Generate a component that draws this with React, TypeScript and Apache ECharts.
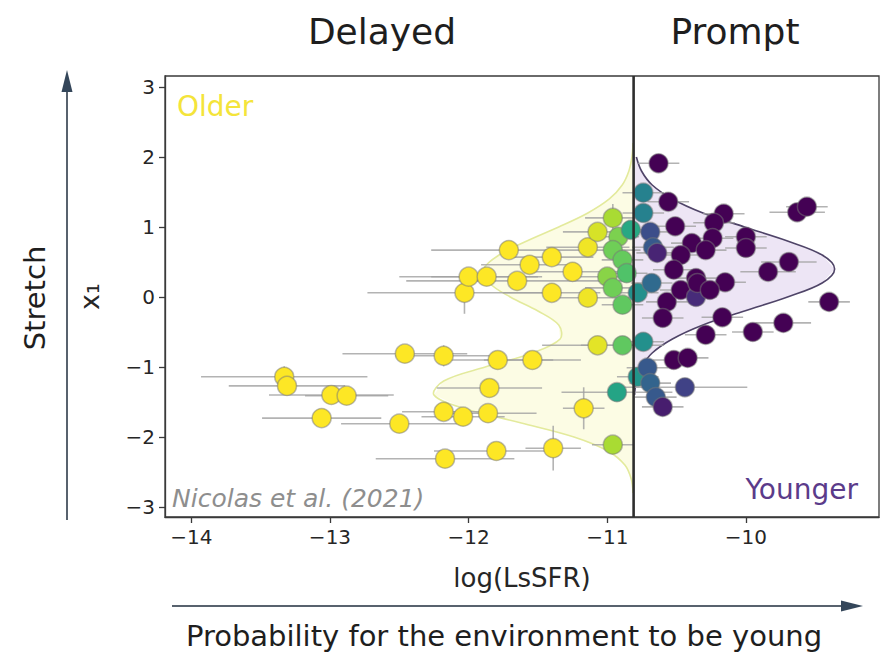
import { useEffect, useRef } from "react";
import * as echarts from "echarts";

// Host-galaxy local specific star formation rate (log) and SALT2 stretch x1
const lssfr = [
  -13.33, -13.31, -12.99, -12.88, -13.06, -12.5, -12.46, -12.18, -11.79, -11.54, -11.07,
  -11.85, -11.17, -12.18, -12.04, -11.86, -12.17, -11.8, -11.39, -10.96, -12.03, -11.4,
  -11.14, -11.71, -11.4, -11.56, -11.14, -11.07, -10.96, -11.25, -12.0, -11.87, -11.65,
  -10.92, -10.96, -10.89, -10.86, -11.0, -10.96, -10.89, -10.83, -10.74, -10.74, -10.69,
  -10.67, -10.78, -10.68, -10.89, -10.74, -10.78, -10.93, -10.71, -10.69, -10.65,
  -10.63, -10.56, -10.51, -10.16, -10.23, -10.24, -10.39, -10.29, -10.47, -10.64, -10.0,
  -10.0, -9.84, -9.69, -9.63, -9.56, -10.52, -10.36, -10.15, -10.57, -10.6, -10.47,
  -10.36, -10.35, -10.26, -10.17, -10.29, -9.95, -9.73, -9.4, -10.52, -10.42, -10.44, -10.6,
];
const lssfrErr = [
  0.6, 0.42, 0.45, 0.3, 0.43, 0.42, 0.45, 0.35, 0.4, 0.35, 0.4,
  0.38, 0.15, 0.3, 0.3, 0.35, 0.5, 0.45, 0.2, 0.15, 0.7, 0.35,
  0.3, 0.56, 0.3, 0.35, 0.3, 0.25, 0.2, 0.35, 0.5, 0.4, 0.8,
  0.15, 0.2, 0.15, 0.15, 0.2, 0.2, 0.15, 0.1, 0.15, 0.15, 0.15,
  0.15, 0.15, 0.15, 0.3, 0.15, 0.15, 0.4, 0.15, 0.15, 0.15,
  0.15, 0.15, 0.15, 0.15, 0.15, 0.15, 0.15, 0.15, 0.15, 0.15, 0.15,
  0.15, 0.2, 0.2, 0.2, 0.15, 0.15, 0.15, 0.15, 0.15, 0.15, 0.15,
  0.15, 0.15, 0.15, 0.15, 0.15, 0.15, 0.2, 0.15, 0.15, 0.15, 0.45, 0.15,
];
const stretch = [
  -1.14, -1.27, -1.4, -1.41, -1.73, -1.81, -0.81, -0.84, -0.9, -0.9, -0.69,
  -1.3, -1.59, -1.64, -1.71, -1.66, -2.31, -2.2, -2.16, -2.11, 0.06, 0.06,
  -0.01, 0.67, 0.57, 0.46, 0.71, 0.93, 1.13, 0.36, 0.29, 0.29, 0.23,
  0.86, 0.67, 0.53, 0.34, 0.29, 0.13, -0.11, 0.96, 1.49, 1.2, 0.93,
  0.71, 0.06, 0.2, -0.69, -0.64, -1.14, -1.36, -1.01, -1.23, -1.43,
  1.91, 1.36, 1.01, 1.19, 1.06, 0.84, 0.77, 0.67, 0.6, 0.63, 0.86,
  0.7, 0.36, 0.5, 1.21, 1.29, 0.39, 0.27, 0.21, -0.07, -0.3, 0.1,
  0.0, 0.2, 0.1, -0.29, -0.54, -0.5, -0.37, -0.07, -0.9, -0.87, -1.29, -1.57,
];
const stretchErr = [
  0.15, 0.12, 0.1, 0.08, 0.1, 0.1, 0.1, 0.15, 0.12, 0.1, 0.1,
  0.1, 0.3, 0.1, 0.1, 0.1, 0.1, 0.1, 0.32, 0.1, 0.3, 0.1,
  0.1, 0.12, 0.1, 0.1, 0.1, 0.1, 0.2, 0.1, 0.1, 0.1, 0.1,
  0.1, 0.1, 0.1, 0.1, 0.1, 0.1, 0.1, 0.1, 0.1, 0.1, 0.1,
  0.1, 0.1, 0.1, 0.1, 0.1, 0.1, 0.1, 0.1, 0.1, 0.1,
  0.1, 0.1, 0.1, 0.1, 0.1, 0.1, 0.1, 0.1, 0.1, 0.1, 0.1,
  0.1, 0.1, 0.1, 0.1, 0.1, 0.1, 0.1, 0.1, 0.1, 0.1, 0.1,
  0.1, 0.1, 0.1, 0.1, 0.1, 0.1, 0.1, 0.1, 0.1, 0.1, 0.1, 0.1,
];
// Probability for the local environment to be young
const youngProb = [
  0, 0, 0, 0, 0, 0, 0, 0, 0, 0, 0.04,
  0, 0, 0, 0, 0, 0, 0, 0, 0.13, 0, 0,
  0.02, 0, 0, 0, 0.02, 0.06, 0.13, 0, 0, 0, 0,
  0.2, 0.22, 0.24, 0.28, 0.18, 0.22, 0.25, 0.4, 0.56, 0.56, 0.76,
  0.72, 0.5, 0.66, 0.25, 0.5, 0.48, 0.42, 0.72, 0.68, 0.72,
  1, 1, 1, 1, 1, 1, 1, 1, 1, 0.9, 1,
  1, 1, 1, 1, 1, 1, 1, 1, 1, 1, 1,
  0.88, 1, 1, 1, 1, 1, 1, 1, 1, 1, 0.8, 0.92,
];

const xTickValues = [-14, -13, -12, -11, -10];
const yTickValues = [-3, -2, -1, 0, 1, 2, 3];
const lssfrMin = -14.19;
const lssfrMax = -9.04;
const stretchMin = -3.143;
const stretchMax = 3.157;
const lssfrSplit = -10.81;

// Stretch distributions of the two populations, drawn as widths away from the split
const olderStretch = [
  2.2, 2.0, 1.8, 1.6, 1.4, 1.2, 1.0, 0.8, 0.6, 0.4, 0.2, 0.0, -0.2, -0.4, -0.6, -0.8,
  -1.0, -1.2, -1.4, -1.6, -1.8, -2.0, -2.2, -2.4, -2.6, -2.8,
];
const olderDensity = [
  0.004, 0.012, 0.034, 0.082, 0.175, 0.33, 0.54, 0.77, 0.97, 1.08, 1.04, 0.89, 0.69, 0.54,
  0.53, 0.73, 1.07, 1.37, 1.44, 1.21, 0.81, 0.43, 0.186, 0.063, 0.017, 0.004,
];
const youngerStretch = [
  2.0, 1.8, 1.6, 1.4, 1.2, 1.0, 0.8, 0.6, 0.4, 0.2, 0.0, -0.2, -0.4, -0.6, -0.8, -1.0, -1.2, -1.4,
];
const youngerDensity = [
  0.02, 0.057, 0.134, 0.28, 0.5, 0.8, 1.11, 1.36, 1.45, 1.36, 1.11, 0.8, 0.5, 0.28, 0.134,
  0.057, 0.02, 0.007,
];

const viridisReversed = [
  "#fde725", "#b5de2b", "#6ece58", "#35b779", "#1f9e89",
  "#26828e", "#31688e", "#3e4989", "#482878", "#440154",
];

const FONT = '"DejaVu Sans", Verdana, sans-serif';

const minusFormat = (v: number) => (v < 0 ? "\u2212" + Math.abs(v) : String(v));

function distribution(ys: number[], widths: number[], side: number, fill: string, stroke: string) {
  return {
    type: "custom",
    coordinateSystem: "cartesian2d",
    silent: true,
    z: 1,
    data: [[lssfrSplit, 0]],
    renderItem: (_params: any, api: any) => {
      const curve = ys.map((y, i) => api.coord([lssfrSplit + side * widths[i], y]));
      const closing = [
        api.coord([lssfrSplit, ys[ys.length - 1]]),
        api.coord([lssfrSplit, ys[0]]),
      ];
      return {
        type: "group",
        children: [
          { type: "polygon", shape: { points: [...curve, ...closing] }, style: { fill } },
          {
            type: "polyline",
            shape: { points: curve, smooth: 0.35 },
            style: { stroke, lineWidth: 1.6, fill: "none" },
          },
        ],
      };
    },
  };
}

function text(x: number, y: number, str: string, size: number, fill: string, align = "center", extra: any = {}) {
  return {
    type: "text",
    x,
    y,
    ...extra,
    style: {
      text: str,
      font: `${extra.italic ? "italic " : ""}${size}px ${FONT}`,
      fill,
      align,
      textAlign: align,
      verticalAlign: "middle",
      textVerticalAlign: "middle",
    },
  };
}

export default function App() {
  const ref = useRef<HTMLDivElement>(null);

  useEffect(() => {
    if (!ref.current) return;
    const chart = echarts.init(ref.current, null, { renderer: "svg" });

    const points = lssfr.map((x, i) => [x, stretch[i], youngProb[i]]);
    const errors = lssfr.map((x, i) => [x, stretch[i], lssfrErr[i], stretchErr[i]]);

    chart.setOption({
      animation: false,
      backgroundColor: "#ffffff",
      textStyle: { fontFamily: FONT },
      grid: {
        left: 165,
        right: 15,
        top: 76,
        bottom: 136,
        show: true,
        borderColor: "#3a3a3a",
        borderWidth: 1.3,
        backgroundColor: "transparent",
      },
      xAxis: {
        type: "value",
        min: lssfrMin,
        max: lssfrMax,
        name: "log(LsSFR)",
        nameLocation: "middle",
        nameGap: 48,
        nameTextStyle: { fontSize: 26, color: "#262626", fontFamily: FONT },
        axisLine: { show: true, onZero: false, lineStyle: { color: "#3a3a3a", width: 1.3 } },
        axisTick: { show: true, customValues: xTickValues, length: 6, lineStyle: { color: "#3a3a3a", width: 1.3 } },
        axisLabel: {
          customValues: xTickValues,
          formatter: minusFormat,
          fontSize: 20,
          color: "#262626",
          margin: 10,
          fontFamily: FONT,
        },
        splitLine: { show: false },
      },
      yAxis: {
        type: "value",
        min: stretchMin,
        max: stretchMax,
        name: "x\u2081",
        nameLocation: "middle",
        nameRotate: 90,
        nameGap: 62,
        nameTextStyle: { fontSize: 27, color: "#262626", fontFamily: FONT },
        axisLine: { show: true, onZero: false, lineStyle: { color: "#3a3a3a", width: 1.3 } },
        axisTick: { show: true, customValues: yTickValues, length: 6, lineStyle: { color: "#3a3a3a", width: 1.3 } },
        axisLabel: {
          customValues: yTickValues,
          formatter: minusFormat,
          fontSize: 20,
          color: "#262626",
          margin: 10,
          fontFamily: FONT,
        },
        splitLine: { show: false },
      },
      visualMap: {
        show: false,
        type: "continuous",
        dimension: 2,
        min: 0,
        max: 1,
        seriesIndex: 3,
        inRange: { color: viridisReversed },
      },
      series: [
        distribution(olderStretch, olderDensity, -1, "rgba(250,250,205,0.55)", "#e3ea9c"),
        distribution(youngerStretch, youngerDensity, 1, "rgba(222,208,236,0.55)", "#4f4468"),
        {
          type: "custom",
          coordinateSystem: "cartesian2d",
          silent: true,
          z: 2,
          data: errors,
          encode: { x: 0, y: 1 },
          renderItem: (_params: any, api: any) => {
            const x = api.value(0);
            const y = api.value(1);
            const xe = api.value(2);
            const ye = api.value(3);
            const l = api.coord([x - xe, y]);
            const r = api.coord([x + xe, y]);
            const t = api.coord([x, y + ye]);
            const b = api.coord([x, y - ye]);
            const style = { stroke: "rgba(160,160,160,0.8)", lineWidth: 1.6 };
            return {
              type: "group",
              children: [
                { type: "line", shape: { x1: l[0], y1: l[1], x2: r[0], y2: r[1] }, style },
                { type: "line", shape: { x1: t[0], y1: t[1], x2: b[0], y2: b[1] }, style },
              ],
            };
          },
        },
        {
          type: "scatter",
          z: 3,
          data: points,
          symbol: "circle",
          symbolSize: 19,
          itemStyle: { borderColor: "rgba(120,120,120,0.5)", borderWidth: 1.5, opacity: 1 },
        },
        {
          type: "line",
          z: 4,
          silent: true,
          symbol: "none",
          data: [
            [lssfrSplit, stretchMin],
            [lssfrSplit, stretchMax],
          ],
          lineStyle: { color: "#2e2e2e", width: 2.6 },
        },
      ],
      graphic: [
        text(382, 31, "Delayed", 36, "#1e1e1e"),
        text(735, 31, "Prompt", 36, "#1e1e1e"),
        text(177, 106, "Older", 28, "#f4e43a", "left"),
        text(858, 489, "Younger", 28, "#5b3b8a", "right"),
        text(172, 498, "Nicolas et al. (2021)", 25, "#8e8e8e", "left", { italic: true }),
        text(504, 636, "Probability for the environment to be young", 29, "#1e1e1e"),
        text(35, 298, "Stretch", 29, "#1e1e1e", "center", { rotation: Math.PI / 2 }),
        { type: "line", shape: { x1: 67, y1: 520, x2: 67, y2: 88 }, style: { stroke: "#58626e", lineWidth: 2 } },
        { type: "polygon", shape: { points: [[67, 70], [61.5, 92], [72.5, 92]] }, style: { fill: "#34465a" } },
        { type: "line", shape: { x1: 172, y1: 606, x2: 845, y2: 606 }, style: { stroke: "#58626e", lineWidth: 2 } },
        { type: "polygon", shape: { points: [[863, 606], [841, 600.5], [841, 611.5]] }, style: { fill: "#34465a" } },
      ],
    });

    return () => chart.dispose();
  }, []);

  return (
    <div
      ref={ref}
      style={{ position: "absolute", left: 0, top: 0, width: 894, height: 653, background: "#ffffff" }}
    />
  );
}
